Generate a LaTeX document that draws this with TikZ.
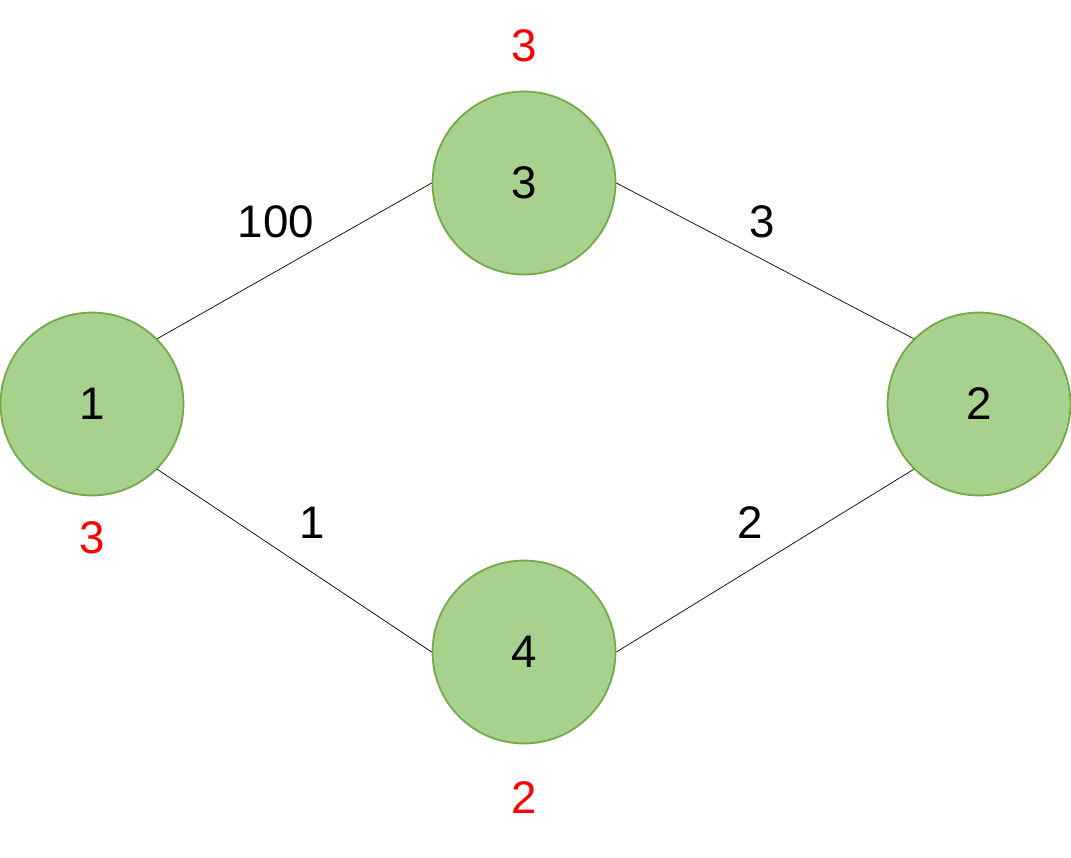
\documentclass[tikz,border=0pt]{standalone}
\usepackage{fontspec}
\setmainfont{Liberation Sans}
\definecolor{nodefill}{HTML}{A9D18E}
\definecolor{nodedraw}{HTML}{6FAA45}
\definecolor{lblred}{HTML}{FF0000}
\begin{document}
\begin{tikzpicture}[x=0.02cm,y=-0.02cm,
  vertex/.style={circle,fill=nodefill,draw=nodedraw,line width=1pt,minimum size=3.66cm,inner sep=0pt,font=\fontsize{26}{30}\selectfont},
  wlabel/.style={font=\fontsize{26}{30}\selectfont,text=black,inner sep=0pt},
  rlabel/.style={font=\fontsize{26}{30}\selectfont,text=lblred,inner sep=0pt},
  edge/.style={draw=black,line width=0.4pt}]
\useasboundingbox (0,0) rectangle (1071,858);
\node[vertex] (n1) at (92,404) {1};
\node[vertex] (n3) at (524,183) {3};
\node[vertex] (n2) at (979,404) {2};
\node[vertex] (n4) at (524,652) {4};
\draw[edge] (n1.45) -- (n3.west);
\draw[edge] (n3.east) -- (n2.135);
\draw[edge] (n1.-45) -- (n4.west);
\draw[edge] (n4.east) -- (n2.-135);
\node[wlabel] (w13) at (276,222) {100};
\node[wlabel] (w32) at (762,222) {3};
\node[wlabel] (w14) at (312,523) {1};
\node[wlabel] (w42) at (750,523) {2};
\node[rlabel] (r3) at (524,46) {3};
\node[rlabel] (r1) at (92,538) {3};
\node[rlabel] (r4) at (524,798) {2};
\end{tikzpicture}
\end{document}
